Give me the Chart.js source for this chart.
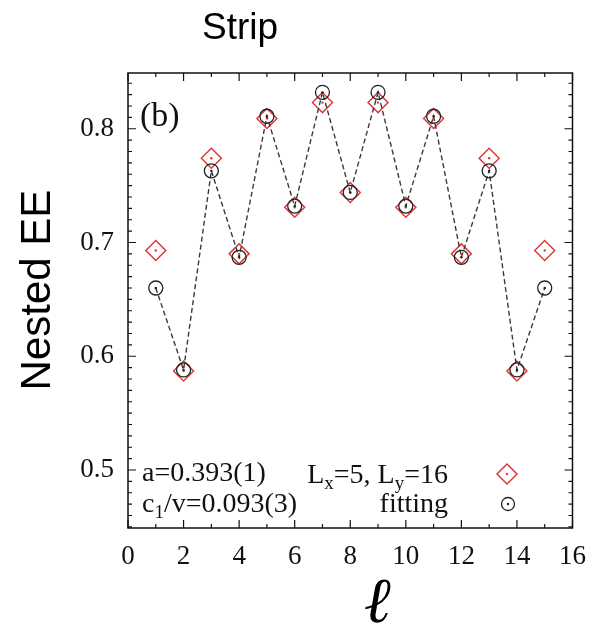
<!DOCTYPE html>
<html lang="en">
<head>
<meta charset="UTF-8">
<title>Strip</title>
<script src="https://cdn.jsdelivr.net/npm/chart.js@4/dist/chart.umd.min.js"></script>
<style>
*{margin:0;padding:0;box-sizing:border-box}
body{background:#fff;width:599px;height:630px;overflow:hidden}
canvas{display:block}
</style>
</head>
<body>
<canvas id="c" width="599" height="630"></canvas>
<script>
// subsystem size l = 1..15
var ells = [1,2,3,4,5,6,7,8,9,10,11,12,13,14,15];
// Lx=5, Ly=16 data (red diamonds)
var eeData = [0.693,0.587,0.774,0.690,0.809,0.731,0.823,0.744,0.823,0.731,0.809,0.690,0.774,0.587,0.693];
// fitting (black circles + dashed line)
var eeFit = [0.660,0.588,0.763,0.687,0.811,0.732,0.832,0.744,0.832,0.732,0.811,0.687,0.763,0.588,0.660];
var xTicks = [0,2,4,6,8,10,12,14,16];
var yTicks = [0.5,0.6,0.7,0.8];
var xMin = 0, xMax = 16, yMin = 0.449, yMax = 0.849;

var red = "#dd3a3a";
var serif = "'Liberation Serif','DejaVu Serif',serif";

function pts(ys){ return ells.map(function(x,i){ return {x:x, y:ys[i]}; }); }

var frame = {
  id: "frame",
  afterDraw: function(ch){
    var c = ch.ctx, a = ch.chartArea, xs = ch.scales.x, ys = ch.scales.y;
    c.save();
    c.strokeStyle = "#111"; c.lineWidth = 1.5;
    c.strokeRect(a.left, a.top, a.right-a.left, a.bottom-a.top);
    c.lineWidth = 1.2;
    c.beginPath();
    for (var v = xMin; v <= xMax; v++) {
      var px = xs.getPixelForValue(v), len = v % 2 === 0 ? 8 : 4;
      c.moveTo(px, a.bottom); c.lineTo(px, a.bottom-len);
      c.moveTo(px, a.top); c.lineTo(px, a.top+len);
    }
    for (var k = 45; k <= 84; k++) {
      var py = ys.getPixelForValue(k/100), l2 = k % 10 === 0 ? 8 : 4;
      c.moveTo(a.left, py); c.lineTo(a.left+l2, py);
      c.moveTo(a.right, py); c.lineTo(a.right-l2, py);
    }
    c.stroke();

    // titles
    c.fillStyle = "#000";
    c.font = "37px 'Liberation Sans',Arial,sans-serif";
    c.textAlign = "center"; c.textBaseline = "alphabetic";
    c.fillText("Strip", 240, 39);
    c.save();
    c.translate(50, 290); c.rotate(-Math.PI/2);
    c.font = "42px 'Liberation Sans',Arial,sans-serif";
    c.fillText("Nested EE", 0, 0);
    c.restore();
    c.font = "italic 64px " + serif;
    c.fillText("\u2113", 377, 622);

    // in-plot annotations
    c.fillStyle = "#111";
    c.textAlign = "left";
    c.font = "34px " + serif;
    c.fillText("(b)", 140, 126);
    c.font = "28px " + serif;
    c.fillText("a=0.393(1)", 142, 481);
    drawRich(c, [["c",0],["1",1],["/v=0.093(3)",0]], 142, 512, "left");
    drawRich(c, [["L",0],["x",1],["=5, L",0],["y",1],["=16",0]], 448, 483, "right");
    c.textAlign = "right";
    c.font = "28px " + serif;
    c.fillText("fitting", 448, 512);

    // legend keys
    c.strokeStyle = red; c.lineWidth = 1.5;
    c.beginPath();
    c.moveTo(507, 464); c.lineTo(517, 474); c.lineTo(507, 484); c.lineTo(497, 474); c.closePath();
    c.stroke();
    c.fillStyle = red; c.beginPath(); c.arc(507, 474, 1.2, 0, 2*Math.PI); c.fill();
    c.strokeStyle = "#222"; c.lineWidth = 1.3;
    c.beginPath(); c.arc(508, 504, 6.5, 0, 2*Math.PI); c.stroke();
    c.fillStyle = "#222"; c.beginPath(); c.arc(508, 504, 1.2, 0, 2*Math.PI); c.fill();
    c.restore();
  }
};

function drawRich(c, parts, x, y, align){
  var big = "28px " + serif, small = "19px " + serif, w = 0;
  parts.forEach(function(p){ c.font = p[1] ? small : big; w += c.measureText(p[0]).width; });
  var cx = align === "right" ? x - w : x;
  c.textAlign = "left";
  parts.forEach(function(p){
    c.font = p[1] ? small : big;
    c.fillText(p[0], cx, p[1] ? y + 6 : y);
    cx += c.measureText(p[0]).width;
  });
}

new Chart(document.getElementById("c"), {
  type: "scatter",
  data: {
    datasets: [
      { label: "fitting", data: pts(eeFit), showLine: true,
        borderColor: "#3a3a3a", borderWidth: 1.4, borderDash: [5,3],
        pointStyle: "circle", pointRadius: 7, pointBorderWidth: 1.3,
        pointBorderColor: "#222", pointBackgroundColor: "rgba(0,0,0,0)", order: 2 },
      { label: "Lx=5, Ly=16", data: pts(eeData), showLine: false,
        pointStyle: "rectRot", pointRadius: 10, pointBorderWidth: 1.5,
        pointBorderColor: red, pointBackgroundColor: "rgba(0,0,0,0)", order: 3 },
      { label: "dots fit", data: pts(eeFit), showLine: false,
        pointRadius: 1.2, pointBorderWidth: 0, pointBackgroundColor: "#222", order: 1 },
      { label: "dots data", data: pts(eeData), showLine: false,
        pointRadius: 1.2, pointBorderWidth: 0, pointBackgroundColor: red, order: 1 }
    ]
  },
  options: {
    responsive: false, animation: false,
    layout: { padding: { top: 73, right: 16, left: 0, bottom: 0 } },
    plugins: { legend: { display: false }, tooltip: { enabled: false } },
    scales: {
      x: {
        type: "linear", min: xMin, max: xMax,
        afterFit: function(s){ s.height = 102; },
        afterBuildTicks: function(s){ s.ticks = xTicks.map(function(v){ return {value:v}; }); },
        grid: { display: false, drawTicks: false },
        border: { display: false },
        ticks: { padding: 13, color: "#111", font: { family: serif, size: 27 }, maxRotation: 0 }
      },
      y: {
        type: "linear", min: yMin, max: yMax,
        afterFit: function(s){ s.width = 128; },
        afterBuildTicks: function(s){ s.ticks = yTicks.map(function(v){ return {value:v}; }); },
        grid: { display: false, drawTicks: false },
        border: { display: false },
        ticks: { padding: 14, color: "#111", font: { family: serif, size: 27 },
          callback: function(v){ return v.toFixed(1); } }
      }
    }
  },
  plugins: [frame]
});
</script>
</body>
</html>
